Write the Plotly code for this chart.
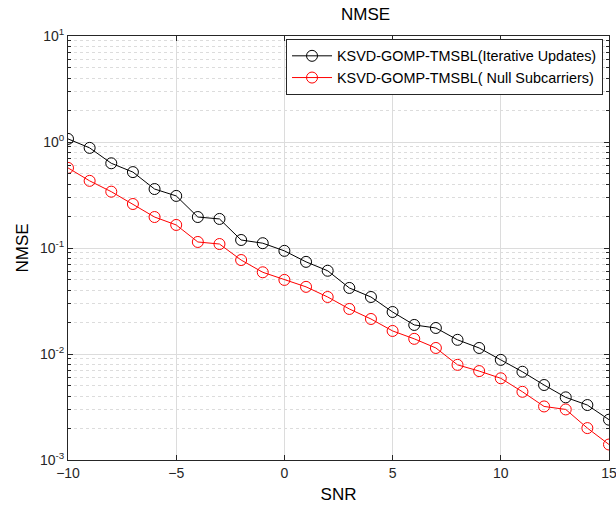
import plotly.graph_objects as go

snr = list(range(-10, 16))
nmse_iter = [1.07, 0.88, 0.63, 0.52, 0.36, 0.31, 0.196, 0.188, 0.119, 0.111,
             0.094, 0.074, 0.061, 0.042, 0.0345, 0.0249, 0.0188, 0.0176, 0.0136, 0.0114,
             0.0088, 0.0068, 0.0051, 0.0039, 0.0033, 0.0024]
nmse_null = [0.57, 0.43, 0.34, 0.26, 0.196, 0.165, 0.114, 0.109, 0.077, 0.059,
             0.050, 0.043, 0.0345, 0.0266, 0.0214, 0.0165, 0.0139, 0.0114, 0.0079, 0.0069,
             0.0059, 0.0044, 0.0032, 0.0030, 0.0020, 0.0014]
names = ["KSVD-GOMP-TMSBL(Iterative Updates)", "KSVD-GOMP-TMSBL( Null Subcarriers)"]
colors = ["#000000", "#ff0000"]
x_ticks = [-10, -5, 0, 5, 10, 15]
y_tick_vals = [1e-3, 1e-2, 1e-1, 1e0, 1e1]
y_tick_text = ["10<sup>-3</sup>", "10<sup>-2</sup>", "10<sup>-1</sup>", "10<sup>0</sup>", "10<sup>1</sup>"]

fig = go.Figure()
for y, name, c in zip([nmse_iter, nmse_null], names, colors):
    fig.add_trace(go.Scatter(
        x=snr, y=y, name=name, mode="lines+markers",
        line=dict(color=c, width=1),
        marker=dict(symbol="circle-open", size=11, color=c, line=dict(width=1, color=c)),
    ))

font = "Liberation Sans, Arial, sans-serif"
fig.update_layout(
    width=616, height=512,
    margin=dict(l=68, r=7, t=36, b=52, autoexpand=False),
    paper_bgcolor="white", plot_bgcolor="white",
    font=dict(family=font, size=14, color="#262626"),
    title=dict(text="NMSE", x=0.55, xanchor="center", xref="paper", y=0.985, yanchor="top",
               font=dict(size=17, color="#000000")),
    showlegend=True,
    legend=dict(x=0.403, y=0.993, xanchor="left", yanchor="top",
                bgcolor="white", bordercolor="#262626", borderwidth=1,
                font=dict(size=14.4, color="#000000"), tracegroupgap=0,
                itemwidth=40),
)
fig.update_xaxes(
    range=[-10, 15], tickvals=x_ticks, automargin=False,
    showgrid=True, gridcolor="#dcdcdc", gridwidth=1,
    ticks="inside", ticklen=5, tickcolor="#262626",
    showline=True, linecolor="#262626", linewidth=1, mirror="ticks",
    zeroline=False, ticklabeloverflow="allow",
    tickfont=dict(size=14, color="#262626"),
    title=dict(text="SNR", font=dict(size=17, color="#000000"), standoff=8),
)
fig.update_yaxes(
    type="log", range=[-3, 1], tickvals=y_tick_vals, ticktext=y_tick_text, automargin=False,
    showgrid=True, gridcolor="#dcdcdc", gridwidth=1,
    ticks="inside", ticklen=5, tickcolor="#262626",
    showline=True, linecolor="#262626", linewidth=1, mirror="ticks",
    zeroline=False, ticklabeloverflow="allow",
    tickfont=dict(size=14, color="#262626"),
    minor=dict(dtick="D1", showgrid=True, gridcolor="#dcdcdc", griddash="dot",
               ticks="inside", ticklen=3, tickcolor="#262626"),
    title=dict(text="NMSE", font=dict(size=17, color="#000000"), standoff=6),
)

fig.write_html("out.html")
